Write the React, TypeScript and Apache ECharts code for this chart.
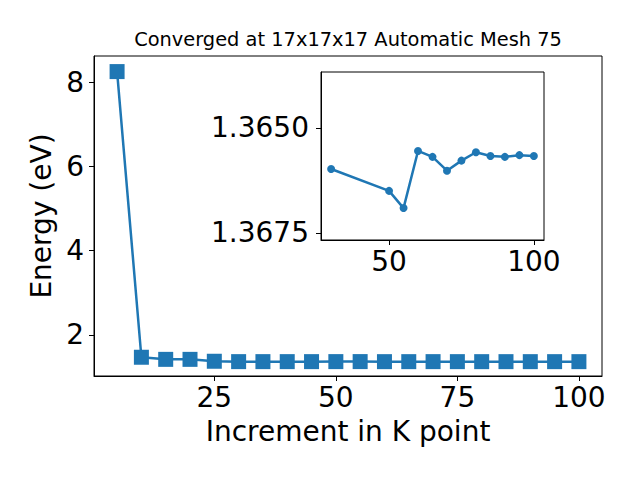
import React, { useEffect, useRef } from "react";
import * as echarts from "echarts";

const mainX = [5, 10, 15, 20, 25, 30, 35, 40, 45, 50, 55, 60, 65, 70, 75, 80, 85, 90, 95, 100];
const mainY = [8.25, 1.47, 1.42, 1.42, 1.375, 1.366, 1.366, 1.366, 1.366, 1.3665, 1.3669, 1.3656, 1.3657, 1.366, 1.3658, 1.3656, 1.3657, 1.3657, 1.3657, 1.3657];
const insetX = [30, 50, 55, 60, 65, 70, 75, 80, 85, 90, 95, 100];
const insetY = [1.36598, 1.3665, 1.36691, 1.36555, 1.36569, 1.36602, 1.36578, 1.36558, 1.36567, 1.36569, 1.36565, 1.36567];
const mainXTicks = [25, 50, 75, 100];
const mainYTicks = [2, 4, 6, 8];
const insetXTicks = [50, 100];
const insetYTicks = [1.365, 1.3675];
const title = "Converged at 17x17x17 Automatic Mesh 75";
const xName = "Increment in K point";
const yName = "Energy (eV)";

const FONT = "DejaVu Sans";
const BLUE = "#1f77b4";

export default function App() {
  const ref = useRef<HTMLDivElement>(null);
  useEffect(() => {
    if (!ref.current) return;
    const chart = echarts.init(ref.current, null, { renderer: "svg" });
    const axisCommon = {
      axisLine: { show: true, onZero: false, lineStyle: { color: "#000", width: 1 } },
      splitLine: { show: false },
    };
    const tickStyle = { show: true, length: 5, lineStyle: { color: "#000", width: 1 } };
    const labelStyle = { color: "#000", fontFamily: FONT, fontSize: 28 };
    chart.setOption({
      animation: false,
      backgroundColor: "#fff",
      title: {
        text: title,
        left: 348,
        textAlign: "center",
        top: 30,
        padding: 0,
        textStyle: { fontFamily: FONT, fontSize: 19.4, fontWeight: "normal", color: "#000" },
      },
      grid: [
        { left: 94, top: 56, width: 508, height: 320, show: true, borderColor: "#000", borderWidth: 1, backgroundColor: "#fff" },
        { left: 321, top: 72, width: 223, height: 168, show: true, borderColor: "#000", borderWidth: 1, backgroundColor: "#fff", z: 5 },
      ],
      xAxis: [
        {
          type: "value", gridIndex: 0, min: 0.25, max: 104.75, ...axisCommon,
          axisTick: { ...tickStyle, customValues: mainXTicks },
          axisLabel: { ...labelStyle, margin: 7, customValues: mainXTicks, formatter: (v: number) => String(v) },
          name: xName, nameLocation: "middle", nameGap: 41,
          nameTextStyle: { fontFamily: FONT, fontSize: 28, color: "#000" },
        },
        {
          type: "value", gridIndex: 1, min: 26.5, max: 103.5, ...axisCommon, z: 5,
          axisTick: { ...tickStyle, customValues: insetXTicks },
          axisLabel: { ...labelStyle, margin: 7, customValues: insetXTicks, formatter: (v: number) => String(v) },
        },
      ],
      yAxis: [
        {
          type: "value", gridIndex: 0, min: 1.025, max: 8.62, ...axisCommon,
          axisTick: { ...tickStyle, customValues: mainYTicks },
          axisLabel: { ...labelStyle, margin: 10, customValues: mainYTicks, formatter: (v: number) => String(v) },
          name: yName, nameLocation: "middle", nameGap: 32,
          nameTextStyle: { fontFamily: FONT, fontSize: 28, color: "#000" },
        },
        {
          type: "value", gridIndex: 1, inverse: true, min: 1.36367, max: 1.36767, ...axisCommon, z: 5,
          axisTick: { ...tickStyle, customValues: insetYTicks },
          axisLabel: { ...labelStyle, margin: 12, customValues: insetYTicks, formatter: (v: number) => v.toFixed(4) },
        },
      ],
      series: [
        {
          type: "line", xAxisIndex: 0, yAxisIndex: 0,
          data: mainX.map((x, i) => [x, mainY[i]]),
          symbol: "rect", symbolSize: 15, showSymbol: true,
          lineStyle: { color: BLUE, width: 2.5 },
          itemStyle: { color: BLUE },
          z: 2,
        },
        {
          type: "line", xAxisIndex: 1, yAxisIndex: 1,
          data: insetX.map((x, i) => [x, insetY[i]]),
          symbol: "circle", symbolSize: 8, showSymbol: true,
          lineStyle: { color: BLUE, width: 2.5 },
          itemStyle: { color: BLUE },
          z: 6,
        },
      ],
    });
    return () => chart.dispose();
  }, []);
  return <div ref={ref} style={{ position: "absolute", left: 0, top: 0, width: 640, height: 480 }} />;
}
